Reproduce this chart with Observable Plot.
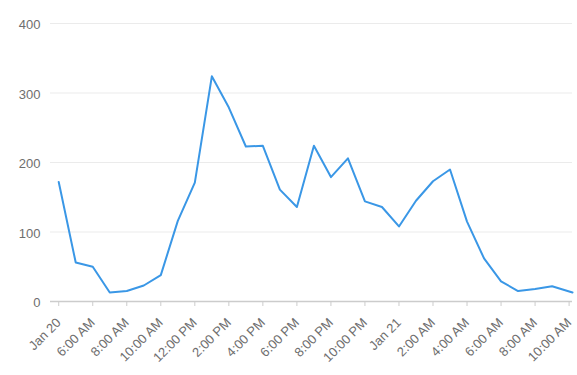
<!DOCTYPE html>
<html>
<head>
<meta charset="utf-8">
<script src="https://cdn.jsdelivr.net/npm/d3@7"></script>
<script src="https://cdn.jsdelivr.net/npm/@observablehq/plot@0.6"></script>
<style>
  html, body { margin: 0; padding: 0; background: #fff; }
</style>
</head>
<body>
<div id="chart"></div>
<script>
const times = [
  "2024-01-20T04:00", "2024-01-20T05:00", "2024-01-20T06:00", "2024-01-20T07:00",
  "2024-01-20T08:00", "2024-01-20T09:00", "2024-01-20T10:00", "2024-01-20T11:00",
  "2024-01-20T12:00", "2024-01-20T13:00", "2024-01-20T14:00", "2024-01-20T15:00",
  "2024-01-20T16:00", "2024-01-20T17:00", "2024-01-20T18:00", "2024-01-20T19:00",
  "2024-01-20T20:00", "2024-01-20T21:00", "2024-01-20T22:00", "2024-01-20T23:00",
  "2024-01-21T00:00", "2024-01-21T01:00", "2024-01-21T02:00", "2024-01-21T03:00",
  "2024-01-21T04:00", "2024-01-21T05:00", "2024-01-21T06:00", "2024-01-21T07:00",
  "2024-01-21T08:00", "2024-01-21T09:00", "2024-01-21T10:12"
];
const values = [
  172, 56, 50, 13, 15, 23, 38, 116, 171, 324, 279, 223, 224, 161, 136, 224,
  179, 206, 144, 136, 108, 145, 173, 190, 115, 62, 29, 15, 18, 22, 13
];
const tickTimes = [
  "2024-01-20T04:00", "2024-01-20T06:00", "2024-01-20T08:00", "2024-01-20T10:00",
  "2024-01-20T12:00", "2024-01-20T14:00", "2024-01-20T16:00", "2024-01-20T18:00",
  "2024-01-20T20:00", "2024-01-20T22:00", "2024-01-21T00:00", "2024-01-21T02:00",
  "2024-01-21T04:00", "2024-01-21T06:00", "2024-01-21T08:00", "2024-01-21T10:00"
];
const tickLabels = [
  "Jan 20", "6:00 AM", "8:00 AM", "10:00 AM", "12:00 PM", "2:00 PM", "4:00 PM",
  "6:00 PM", "8:00 PM", "10:00 PM", "Jan 21", "2:00 AM", "4:00 AM", "6:00 AM",
  "8:00 AM", "10:00 AM"
];
const yTicks = [0, 100, 200, 300, 400];
const xDomain = ["2024-01-20T03:31", "2024-01-21T10:12"];

const data = times.map((t, i) => ({ time: new Date(t), value: values[i] }));
const tickDates = tickTimes.map(t => new Date(t));
const labelOf = new Map(tickDates.map((d, i) => [+d, tickLabels[i]]));

const chart = Plot.plot({
  width: 577,
  height: 375,
  marginTop: 23,
  marginBottom: 74,
  marginLeft: 50,
  marginRight: 5,
  style: { fontFamily: "'Liberation Sans', Arial, sans-serif", fontSize: "13px", background: "#fff" },
  x: { type: "time", domain: xDomain.map(t => new Date(t)) },
  y: { domain: [0, 400] },
  marks: [
    Plot.gridY(yTicks, { stroke: "#ebebeb", strokeOpacity: 1, strokeWidth: 1 }),
    Plot.axisY(yTicks, { tickSize: 0, tickPadding: 10, fill: "#6e6e6e", fontSize: 13, label: null, dy: 1.5 }),
    Plot.ruleY([0], { stroke: "#cccccc", strokeWidth: 1.5 }),
    Plot.axisX(tickDates, {
      tickSize: 5,
      stroke: "#cccccc",
      text: null,
      label: null
    }),
    Plot.axisX(tickDates, {
      tickFormat: d => labelOf.get(+d),
      tickRotate: -45,
      tickSize: 0,
      tickPadding: 4,
      dx: 0,
      dy: 15,
      fill: "#6e6e6e",
      fontSize: 13,
      label: null
    }),
    Plot.line(data, { x: "time", y: "value", stroke: "#3a97e6", strokeWidth: 2 })
  ]
});
document.getElementById("chart").appendChild(chart);
</script>
</body>
</html>
